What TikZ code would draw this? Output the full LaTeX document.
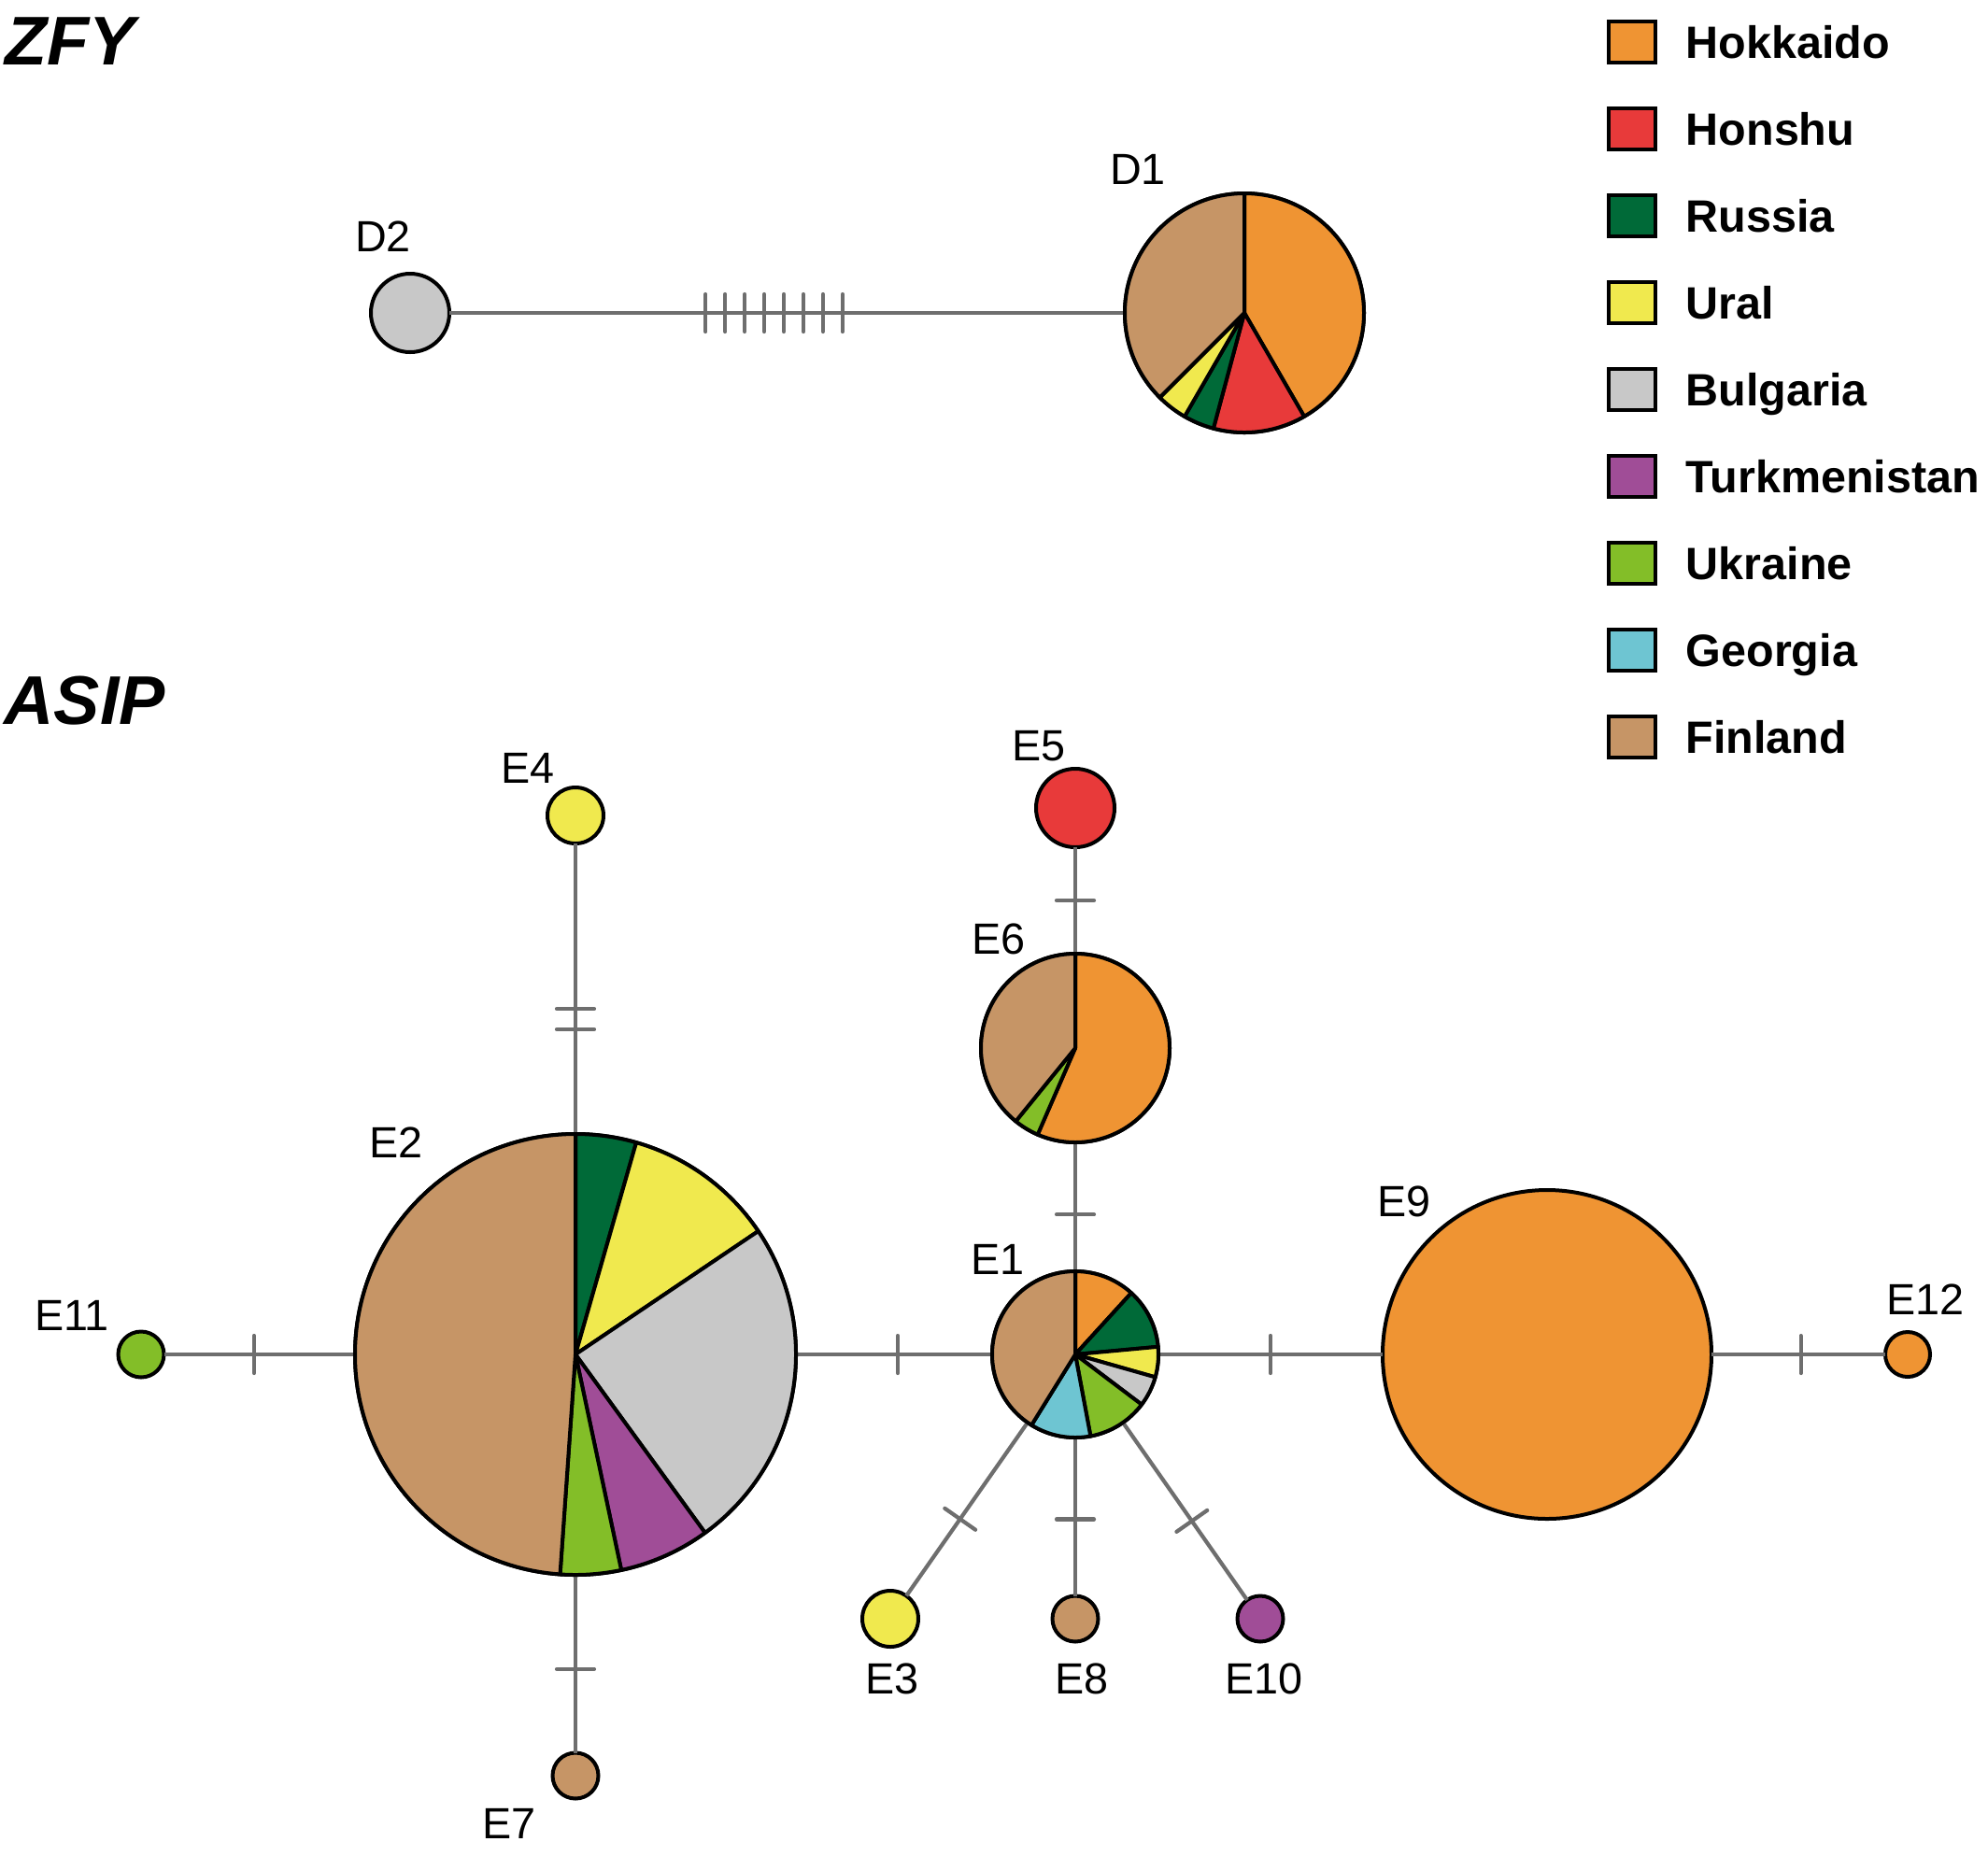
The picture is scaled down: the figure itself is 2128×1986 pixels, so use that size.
\documentclass[tikz,border=0pt]{standalone}
\usepackage{fontspec}
\setmainfont{Liberation Sans}
\definecolor{cHok}{RGB}{239,148,51}
\definecolor{cHon}{RGB}{232,58,58}
\definecolor{cRus}{RGB}{0,106,56}
\definecolor{cUra}{RGB}{240,233,78}
\definecolor{cBul}{RGB}{200,200,200}
\definecolor{cTur}{RGB}{160,77,151}
\definecolor{cUkr}{RGB}{131,190,40}
\definecolor{cGeo}{RGB}{110,197,210}
\definecolor{cFin}{RGB}{198,149,102}
\definecolor{lgray}{RGB}{110,110,110}
\newcommand\pieslice[5]{\filldraw[fill=#5, draw=black, line width=0.4mm, line join=round] (#1.center) -- ++(#3:#2) arc[start angle=#3, end angle=#4, radius=#2] -- cycle;}
\begin{document}
\begin{tikzpicture}[x=0.1mm,y=0.1mm,
 hap/.style={circle, draw=black, line width=0.4mm, inner sep=0pt, outer sep=0pt},
 conn/.style={draw=lgray, line width=0.42mm},
 tickmk/.style={sloped, rectangle, draw=lgray, line width=0.42mm, line join=round, inner sep=0pt, outer sep=0pt, minimum width=0pt, minimum height=4mm},
 hlabel/.style={font=\fontsize{13.3pt}{16pt}\selectfont, inner sep=0pt},
 legbox/.style={rectangle, draw=black, line width=0.35mm, minimum width=5mm, minimum height=4.4mm, inner sep=0pt},
 legtext/.style={font=\bfseries\fontsize{13.8pt}{16pt}\selectfont, inner sep=0pt, anchor=base west},
 title/.style={font=\bfseries\itshape\fontsize{21pt}{25pt}\selectfont, inner sep=0pt, anchor=base west}]
\useasboundingbox (0,0) rectangle (2128,-1986);

% titles
\node[title] (tZFY) at (5,-69) {ZFY};
\node[title] (tASIP) at (4,-775) {ASIP};

% haplotype nodes
\node[hap, fill=cBul, minimum size=8.4mm] (D2) at (439,-335) {};
\node[hap, minimum size=25.6mm] (D1) at (1332,-335) {};
\node[hap, minimum size=17.8mm] (E1) at (1151,-1450) {};
\node[hap, minimum size=47.2mm] (E2) at (616,-1450) {};
\node[hap, fill=cUra, minimum size=6mm] (E3) at (953,-1733) {};
\node[hap, fill=cUra, minimum size=6mm] (E4) at (616,-873) {};
\node[hap, fill=cHon, minimum size=8.4mm] (E5) at (1151,-865) {};
\node[hap, minimum size=20.2mm] (E6) at (1151,-1122) {};
\node[hap, fill=cFin, minimum size=4.9mm] (E7) at (616,-1901) {};
\node[hap, fill=cFin, minimum size=4.9mm] (E8) at (1151,-1733) {};
\node[hap, fill=cHok, minimum size=35.2mm] (E9) at (1656,-1450) {};
\node[hap, fill=cTur, minimum size=4.9mm] (E10) at (1349,-1733) {};
\node[hap, fill=cUkr, minimum size=4.9mm] (E11) at (151,-1450) {};
\node[hap, fill=cHok, minimum size=4.8mm] (E12) at (2042,-1450) {};

% connectors with mutation ticks
\draw[conn] (D2) -- (D1)
  foreach \p [count=\i] in {0.3795,0.4084,0.4373,0.4662,0.4952,0.5241,0.5531,0.5820} {node[tickmk, pos=\p] (dt\i) {}};
\draw[conn] (E4) -- (E2) node[tickmk, pos=0.569] (t4a) {} node[tickmk, pos=0.640] (t4b) {};
\draw[conn] (E2) -- (E7) node[tickmk, pos=0.529] (t7) {};
\draw[conn] (E11) -- (E2) node[tickmk, pos=0.472] (t11) {};
\draw[conn] (E2) -- (E1) node[tickmk, pos=0.519] (t21) {};
\draw[conn] (E1) -- (E9) node[tickmk, pos=0.5] (t9) {};
\draw[conn] (E9) -- (E12) node[tickmk, pos=0.514] (t12) {};
\draw[conn] (E6) -- (E5) node[tickmk, pos=0.5] (t5) {};
\draw[conn] (E6) -- (E1) node[tickmk, pos=0.56] (t6) {};
\draw[conn] (E1) -- (E3) node[tickmk, pos=0.557] (t3) {};
\draw[conn] (E1) -- (E8) node[tickmk, pos=0.516] (t8) {};
\draw[conn] (E1) -- (E10) node[tickmk, pos=0.555] (t10) {};

% pie slices
\pieslice{D1}{128}{90}{-60}{cHok}
\pieslice{D1}{128}{-60}{-105}{cHon}
\pieslice{D1}{128}{-105}{-120}{cRus}
\pieslice{D1}{128}{-120}{-135}{cUra}
\pieslice{D1}{128}{-135}{-270}{cFin}

\pieslice{E2}{236}{90}{74}{cRus}
\pieslice{E2}{236}{74}{34}{cUra}
\pieslice{E2}{236}{34}{-54}{cBul}
\pieslice{E2}{236}{-54}{-78}{cTur}
\pieslice{E2}{236}{-78}{-94}{cUkr}
\pieslice{E2}{236}{-94}{-270}{cFin}

\pieslice{E6}{101}{90}{-113.5}{cHok}
\pieslice{E6}{101}{-113.5}{-129.1}{cUkr}
\pieslice{E6}{101}{-129.1}{-270}{cFin}

\pieslice{E1}{89}{90}{47.65}{cHok}
\pieslice{E1}{89}{47.65}{5.29}{cRus}
\pieslice{E1}{89}{5.29}{-15.88}{cUra}
\pieslice{E1}{89}{-15.88}{-37.06}{cBul}
\pieslice{E1}{89}{-37.06}{-79.41}{cUkr}
\pieslice{E1}{89}{-79.41}{-121.76}{cGeo}
\pieslice{E1}{89}{-121.76}{-270}{cFin}

% labels
\node[hlabel] (lD2) at (410,-253) {D2};
\node[hlabel] (lD1) at (1218,-181) {D1};
\node[hlabel] (lE4) at (565,-822) {E4};
\node[hlabel] (lE5) at (1112,-799) {E5};
\node[hlabel] (lE6) at (1069,-1005) {E6};
\node[hlabel] (lE2) at (424,-1223) {E2};
\node[hlabel] (lE1) at (1068,-1348) {E1};
\node[hlabel] (lE11) at (77,-1408) {E11};
\node[hlabel] (lE9) at (1503,-1286) {E9};
\node[hlabel] (lE12) at (2061,-1391) {E12};
\node[hlabel] (lE3) at (955,-1797) {E3};
\node[hlabel] (lE8) at (1158,-1797) {E8};
\node[hlabel] (lE10) at (1353,-1797) {E10};
\node[hlabel] (lE7) at (545,-1952) {E7};

% legend
\foreach \c/\t [count=\i] in {cHok/Hokkaido,cHon/Honshu,cRus/Russia,cUra/Ural,cBul/Bulgaria,cTur/Turkmenistan,cUkr/Ukraine,cGeo/Georgia,cFin/Finland} {
  \node[legbox, fill=\c] (lb\i) at (1747,{-45-93*(\i-1)}) {};
  \node[legtext] (lt\i) at (1804,{-62-93*(\i-1)}) {\t};
}
\end{tikzpicture}
\end{document}
